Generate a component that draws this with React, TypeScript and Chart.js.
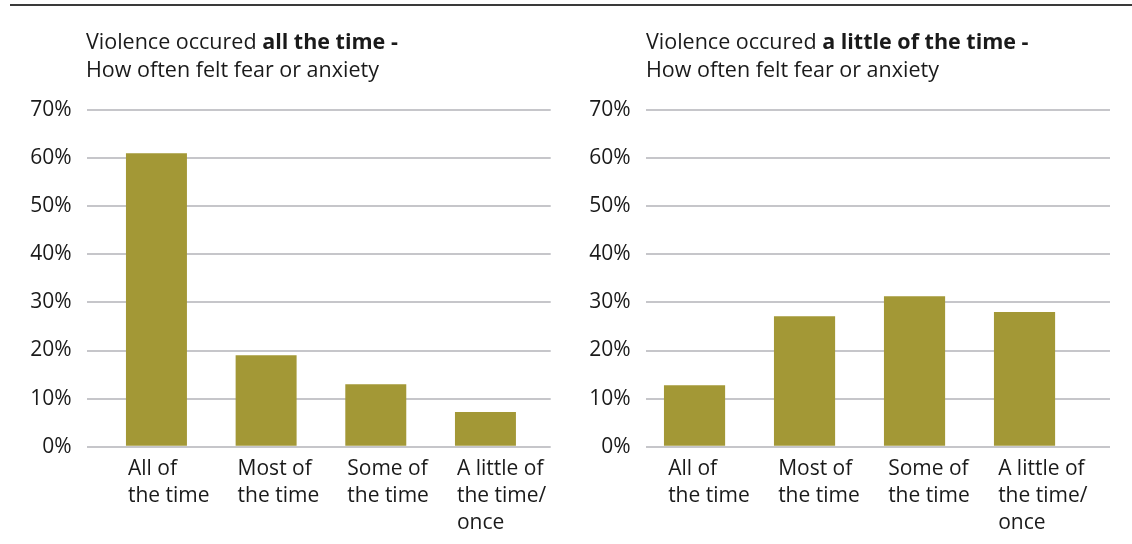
import React, { useEffect, useRef } from "react";
import { Chart, registerables } from "chart.js";

Chart.register(...registerables);

// ---- data ----
const categories: string[][] = [
  ["All of", "the time"],
  ["Most of", "the time"],
  ["Some of", "the time"],
  ["A little of", "the time/", "once"],
];
const allTheTimeValues: number[] = [61, 19, 13, 7.2];
const littleOfTheTimeValues: number[] = [12.8, 27.1, 31.3, 28];
const yTickValues: number[] = [0, 10, 20, 30, 40, 50, 60, 70];
const titleLead = "Violence occured ";
const leftTitleBold = "all the time -";
const rightTitleBold = "a little of the time -";
const titleLine2 = "How often felt fear or anxiety";

// ---- styles ----
const FONT = "'Open Sans', 'Noto Sans', sans-serif";
const BAR_COLOR = "#a39836";
const GRID_COLOR = "#c6c6ca";
const TEXT_COLOR = "#1a1a1a";

type PanelProps = {
  values: number[];
  left: number;
  width: number;
  yAxisWidth: number;
  padRight: number;
  xMin: number;
  xMax: number;
  labelShift: number;
  bold: string;
  titleLeft: number;
};

function Panel(p: PanelProps) {
  const ref = useRef<HTMLCanvasElement>(null);
  useEffect(() => {
    const chart = new Chart(ref.current as HTMLCanvasElement, {
      type: "bar",
      data: {
        datasets: [
          {
            data: p.values.map((v, i) => ({ x: i, y: v })),
            backgroundColor: BAR_COLOR,
            borderWidth: 0,
            barPercentage: 0.556,
            categoryPercentage: 1,
          } as any,
        ],
      },
      options: {
        animation: false,
        responsive: false,
        maintainAspectRatio: false,
        layout: { padding: { top: 110, right: p.padRight, left: 0, bottom: 0 } },
        plugins: {
          legend: { display: false },
          tooltip: { enabled: false },
          title: { display: false },
        },
        scales: {
          x: {
            type: "linear",
            offset: false,
            min: p.xMin,
            max: p.xMax,
            grid: { display: false, drawTicks: false, offset: false },
            border: { display: false },
            afterBuildTicks: (s: any) => {
              s.ticks = categories.map((_, i) => ({ value: i + p.labelShift }));
            },
            afterFit: (s: any) => {
              s.height = 97.3;
            },
            ticks: {
              autoSkip: false,
              maxRotation: 0,
              minRotation: 0,
              align: "start",
              padding: 9,
              color: TEXT_COLOR,
              font: { family: FONT, size: 21, lineHeight: 1.29 },
              callback: (_v: any, i: number) => categories[i],
            },
          } as any,
          y: {
            min: 0,
            max: 70,
            afterBuildTicks: (s: any) => {
              s.ticks = yTickValues.map((v) => ({ value: v }));
            },
            afterFit: (s: any) => {
              s.width = p.yAxisWidth;
            },
            grid: { color: GRID_COLOR, lineWidth: 2, drawTicks: false },
            border: { display: false },
            ticks: {
              padding: 15,
              color: TEXT_COLOR,
              font: { family: FONT, size: 21 },
              callback: (v: any) => v + "%",
            },
          } as any,
        },
      },
    });
    return () => chart.destroy();
  }, []);

  return (
    <>
      <canvas
        ref={ref}
        width={p.width}
        height={544}
        style={{ position: "absolute", left: p.left, top: 0, width: p.width, height: 544 }}
      />
      <div
        style={{
          position: "absolute",
          left: p.titleLeft,
          top: 27,
          fontFamily: FONT,
          fontSize: 21.5,
          lineHeight: "28px",
          color: TEXT_COLOR,
          whiteSpace: "nowrap",
        }}
      >
        <div>
          {titleLead}
          <b style={{ fontWeight: 700 }}>{p.bold}</b>
        </div>
        <div>{titleLine2}</div>
      </div>
    </>
  );
}

export default function App() {
  return (
    <div
      style={{
        position: "fixed",
        left: 0,
        top: 0,
        width: 1132,
        height: 544,
        background: "#ffffff",
        overflow: "hidden",
      }}
    >
      <div
        style={{
          position: "absolute",
          left: 10,
          top: 4,
          width: 1122,
          height: 2,
          background: "#3a3a3a",
        }}
      />
      <Panel
        values={allTheTimeValues}
        left={0}
        width={566}
        yAxisWidth={86.7}
        padRight={15.3}
        xMin={-0.636}
        xMax={3.595}
        labelShift={-0.26}
        bold={leftTitleBold}
        titleLeft={86}
      />
      <Panel
        values={littleOfTheTimeValues}
        left={566}
        width={566}
        yAxisWidth={79.7}
        padRight={22}
        xMin={-0.444}
        xMax={3.777}
        labelShift={-0.24}
        bold={rightTitleBold}
        titleLeft={646}
      />
    </div>
  );
}
